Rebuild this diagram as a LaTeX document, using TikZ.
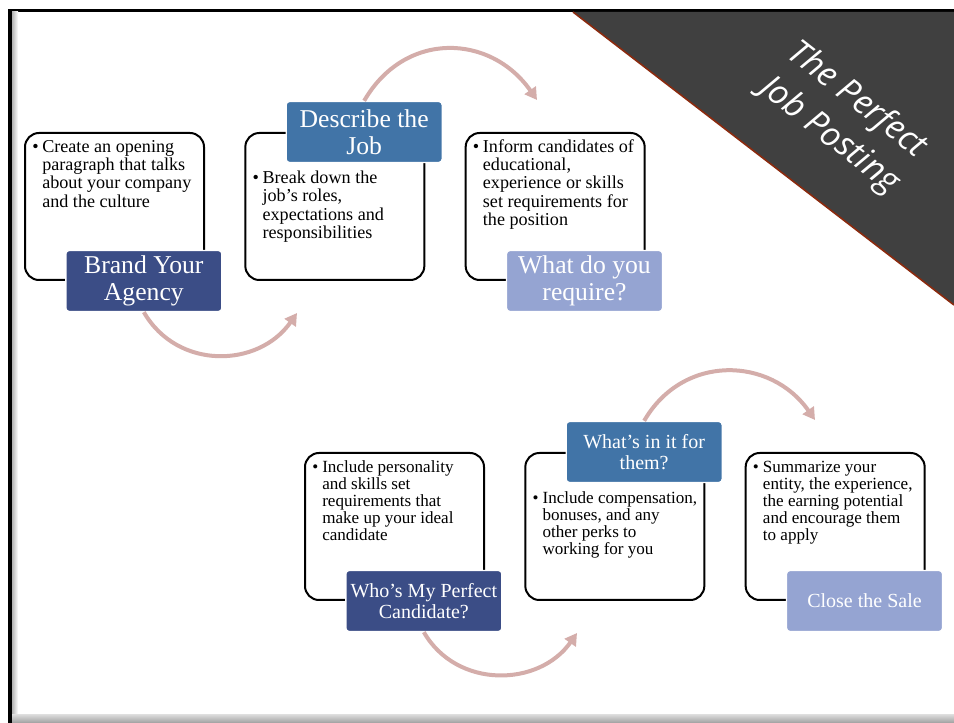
\documentclass[tikz,border=0pt]{standalone}
\usepackage{fontspec}
\setmainfont{Liberation Serif}
\newfontfamily\titlefont{Open Sans}
\usepackage{tikz}
\usetikzlibrary{positioning, arrows.meta}
\usepackage{xcolor}

\definecolor{navyhdr}{HTML}{3B4D86}
\definecolor{steelhdr}{HTML}{4174A7}
\definecolor{palehdr}{HTML}{95A4D2}
\definecolor{arcpink}{HTML}{D4ADAA}
\definecolor{slate}{HTML}{404040}
\definecolor{rust}{HTML}{8B2A0E}

\newcommand{\bulpt}[1]{\makebox[7.5pt][l]{\textbullet}\begin{tabular}[t]{@{}l@{}}#1\end{tabular}}

\tikzset{
  card/.style={draw, rounded corners=10.5pt, line width=1.5pt, fill=white,
    minimum width=134.25pt, minimum height=110.25pt, inner sep=0},
  hdr/.style={draw=white, line width=1pt, rounded corners=2.5pt, text=white,
    align=center, minimum width=117pt, minimum height=45.75pt, inner sep=0,
    font=\fontsize{19.25}{20.25}\selectfont},
  hdrsm/.style={hdr, font=\fontsize{15}{15.75}\selectfont},
  body/.style={inner sep=0, anchor=north west, font=\fontsize{13.6}{13.7}\selectfont},
  bodysm/.style={body, font=\fontsize{12.8}{12.75}\selectfont},
  flow/.style={draw=arcpink, line width=3pt, -{Triangle[length=9pt,width=10pt]}}
}

\begin{document}
\begin{tikzpicture}[x=0.75pt, y=-0.75pt]
    \fill[white] (0,0) rectangle (954,723);
    \useasboundingbox (0,0) rectangle (954,723);

    % slide frame
    \fill[black] (8,9) rectangle (954,12);
    \fill[black] (8,9) rectangle (12,723);
    \shade[left color=gray!60, right color=white] (12,12) rectangle (18,714);
    \shade[top color=gray!25, bottom color=gray!75] (12,714) rectangle (954,723);

    % title corner
    \fill[slate] (573,12) -- (954,12) -- (954,305) -- cycle;
    \draw[rust, line width=1.2pt] (573,12) -- (954,305);
    \node[text=white, align=center, rotate=-38,
      font=\titlefont\itshape\fontsize{25.5}{33.5}\selectfont] (ttl) at (843,118) {The Perfect\\Job Posting};

    \node[card] (box1) at (114.5,206.5) {};
    \node[card] (box2) [right=29.5pt of box1] {};
    \node[card] (box3) [right=29.5pt of box2] {};
    \node[card] (box4) at (394.5,526.5) {};
    \node[card] (box5) [right=29.5pt of box4] {};
    \node[card] (box6) [right=29.5pt of box5] {};

    \node[body] (txt1) [below right=5.4pt and 6pt of box1.north west]
      {\bulpt{Create an opening\\paragraph that talks\\about your company\\and the culture}};
    \node[body] (txt2) [below right=29pt and 6pt of box2.north west]
      {\bulpt{Break down the\\job’s roles,\\expectations and\\responsibilities}};
    \node[body] (txt3) [below right=5.4pt and 6pt of box3.north west]
      {\bulpt{Inform candidates of\\educational,\\experience or skills\\set requirements for\\the position}};
    \node[bodysm] (txt4) [below right=6pt and 6pt of box4.north west]
      {\bulpt{Include personality\\and skills set\\requirements that\\make up your ideal\\candidate}};
    \node[bodysm] (txt5) [below right=29.5pt and 6pt of box5.north west]
      {\bulpt{Include compensation,\\bonuses, and any\\other perks to\\working for you}};
    \node[bodysm] (txt6) [below right=6pt and 6pt of box6.north west]
      {\bulpt{Summarize your\\entity, the experience,\\the earning potential\\and encourage them\\to apply}};

    \coordinate (end1) at (297,313);
    \coordinate (end2) at (537,100);
    \coordinate (end3) at (577,633);
    \coordinate (end4) at (815,420);

    \node[hdr, fill=navyhdr] (hdr1) at ([xshift=22pt]box1.south) {Brand Your\\Agency};
    \node[hdr, fill=steelhdr] (hdr2) at ([xshift=22pt]box2.north) {Describe the\\Job};
    \node[hdr, fill=palehdr] (hdr3) at ([xshift=22pt]box3.south) {What do you\\require?};
    \node[hdrsm, fill=navyhdr] (hdr4) at ([xshift=22pt]box4.south) {Who’s My Perfect\\Candidate?};
    \node[hdrsm, fill=steelhdr] (hdr5) at ([xshift=22pt]box5.north) {What’s in it for\\them?};
    \node[hdrsm, fill=palehdr] (hdr6) at ([xshift=22pt]box6.south) {Close the Sale};

    \path
    (hdr1.south) edge[flow, out=-60, in=-125, looseness=1.12] (end1)
    (hdr2.north) edge[flow, out=60, in=125, looseness=1.2] (end2)
    (hdr4.south) edge[flow, out=-60, in=-125, looseness=1.1] (end3)
    (hdr5.north) edge[flow, out=60, in=125, looseness=1.16] (end4);
\end{tikzpicture}
\end{document}
